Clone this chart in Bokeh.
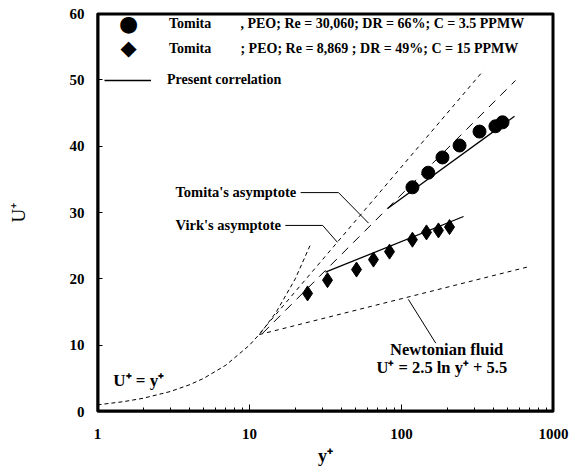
from bokeh.plotting import figure
from bokeh.models import Range1d, Legend, LegendItem, Label, FixedTicker, BasicTickFormatter
from bokeh.embed import file_html
from bokeh.resources import INLINE

# ---- data ----
circ_y = [118, 150, 186, 241, 326, 415, 462]
circ_u = [33.8, 36.0, 38.3, 40.1, 42.2, 43.0, 43.6]
diam_y = [24.1, 32.6, 50.6, 65.4, 83.4, 118, 146, 175, 207]
diam_u = [17.8, 19.8, 21.4, 22.9, 24.1, 25.9, 27.0, 27.3, 27.8]
corr1_y = [81, 554]
corr1_u = [30.6, 44.5]
corr2_y = [31.6, 256]
corr2_u = [21.0, 29.4]
sub_y = [1, 1.5, 2, 3, 4, 5, 7, 10, 12, 15, 20, 25]
sub_u = [1, 1.5, 2, 3, 4, 5, 7, 10, 12, 15, 20, 25]
newt_y = [11.6, 706]
newt_u = [11.6, 21.9]
virk_y = [11.8, 346]
virk_u = [11.9, 51.4]
tomita_y = [12.2, 562]
tomita_u = [11.8, 49.9]

x_ticks = [1, 10, 100, 1000]
x_minor = [m * 10 ** k for k in range(3) for m in range(2, 10)]
y_ticks = [0, 10, 20, 30, 40, 50, 60]

FONT = "Liberation Serif"
X0, X1, Y0, Y1 = 1, 1000, 0, 60

p = figure(width=570, height=472, x_axis_type="log",
           x_range=Range1d(X0, X1), y_range=Range1d(Y0, Y1),
           output_backend="svg", toolbar_location=None,
           min_border_left=97, min_border_right=17, min_border_top=13, min_border_bottom=61)
p.outline_line_color = "black"
p.outline_line_width = 2
p.xgrid.visible = False
p.ygrid.visible = False

for ax in (p.xaxis[0], p.yaxis[0]):
    ax.axis_line_color = "black"
    ax.axis_line_width = 2
    ax.major_tick_out = 0
    ax.minor_tick_out = 0
    ax.major_tick_line_color = "black"
    ax.minor_tick_line_color = "black"
    ax.major_label_text_font = FONT
    ax.major_label_text_font_style = "bold"
    ax.major_label_text_font_size = "15px"
    ax.major_label_text_color = "black"
    ax.axis_label_text_font = FONT
    ax.axis_label_text_color = "black"

p.xaxis[0].ticker = FixedTicker(ticks=x_ticks, minor_ticks=x_minor)
p.xaxis[0].formatter = BasicTickFormatter()
p.xaxis[0].major_tick_in = 7
p.xaxis[0].minor_tick_in = 4
p.xaxis[0].major_label_standoff = 17
p.xaxis[0].axis_label = "y⁺"
p.xaxis[0].axis_label_text_font_style = "bold"
p.xaxis[0].axis_label_text_font_size = "18px"
p.xaxis[0].axis_label_standoff = 4

p.yaxis[0].ticker = FixedTicker(ticks=y_ticks, minor_ticks=[])
p.yaxis[0].major_tick_in = 5
p.yaxis[0].major_label_standoff = 13
p.yaxis[0].axis_label = "U⁺"
p.yaxis[0].axis_label_text_font_style = "normal"
p.yaxis[0].axis_label_text_font_size = "19px"
p.yaxis[0].axis_label_standoff = 38

# frame box drawn as a line just inside the range limits
xin = 10 ** (1 / 152)
yin = 0.15
fx = [X0 * xin, X1 / xin, X1 / xin, X0 * xin, X0 * xin]
fy = [Y0 + yin, Y0 + yin, Y1 - yin, Y1 - yin, Y0 + yin]
p.line(fx, fy, line_color="black", line_width=2)

# curves
p.line(sub_y, sub_u, line_color="black", line_width=1, line_dash="4 3")
p.line(newt_y, newt_u, line_color="black", line_width=1, line_dash="4 4")
p.line(virk_y, virk_u, line_color="black", line_width=1, line_dash="4 4")
p.line(tomita_y, tomita_u, line_color="black", line_width=1, line_dash="9 7")
r_corr = p.line(corr1_y, corr1_u, line_color="black", line_width=1.3)
p.line(corr2_y, corr2_u, line_color="black", line_width=1.3)

p.scatter(circ_y, circ_u, marker="circle", size=13, fill_color="black", line_color="black")
p.scatter(diam_y, diam_u, marker="diamond", size=15,
          fill_color="black", line_color="black")

lg = Legend(items=[LegendItem(label="Present correlation", renderers=[r_corr])],
            location=(7, 321), orientation="vertical",
            padding=0, margin=0, spacing=0,
            glyph_width=47, glyph_height=20, label_height=20,
            label_standoff=16,
            label_text_font=FONT, label_text_font_style="bold",
            label_text_font_size="14px", label_text_color="black",
            border_line_alpha=0, background_fill_alpha=0)
p.add_layout(lg, "center")


def lab(x, y, text, size="14px", align="left", style="bold", font=FONT):
    p.add_layout(Label(x=x, y=y, text=text, text_font=font, text_font_style=style,
                       text_font_size=size, text_align=align, text_baseline="middle",
                       text_color="black"))


# legend keys for the two Tomita series
lab(1.6, 58.5, "●", size="22px", align="center", style="normal", font="DejaVu Sans")
lab(1.6, 54.75, "◆", size="21px", align="center", style="normal", font="DejaVu Sans")
lab(2.95, 58.5, "Tomita")
lab(2.95, 54.75, "Tomita")
lab(8.72, 58.5, ", PEO; Re = 30,060; DR = 66%; C = 3.5 PPMW")
lab(8.72, 54.75, "; PEO; Re = 8,869  ; DR = 49%; C = 15  PPMW")
lab(3.26, 33.1, "Tomita's asymptote", size="14.5px")
lab(3.26, 28.05, "Virk's asymptote", size="14.5px")
lab(198, 9.35, "Newtonian fluid", size="16.5px", align="center")
lab(190, 6.6, "U⁺ = 2.5  ln y⁺ + 5.5", size="16.5px", align="center")
lab(1.27, 4.7, "U⁺ = y⁺", size="17px")

# pointer lines
p.line([21.7, 38.5, 60.7], [33.0, 33.0, 28.4], line_color="black", line_width=1)
p.line([17.2, 30.3, 37.9], [28.05, 28.05, 25.5], line_color="black", line_width=1)
p.line([111, 168], [16.9, 10.3], line_color="black", line_width=1)

open("out.html", "w").write(file_html(p, INLINE))
